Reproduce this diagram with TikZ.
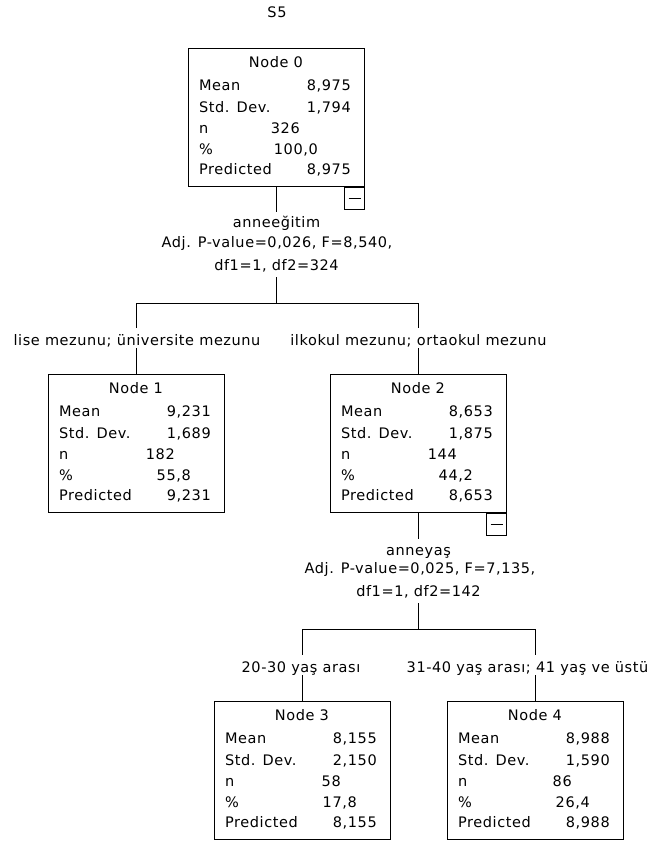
\documentclass[tikz,border=0pt]{standalone}
\usepackage{fontspec}
\setmainfont{DejaVu Sans}[LetterSpace=4]
\newfontfamily\tf{DejaVu Sans}[LetterSpace=4]
\usetikzlibrary{calc}
\def\nOff{127}
\def\pOff{143}
\newcommand\nodetext[7]{%
 \node[anchor=base] (#1-t) at ([xshift=88pt,yshift=-20pt]#1.north west) {#2};
 \node[anchor=base west] (#1-ml) at ([xshift=11pt,yshift=-43pt]#1.north west) {Mean};
 \node[anchor=base east] (#1-mv) at ([xshift=163pt,yshift=-43pt]#1.north west) {#3};
 \node[anchor=base west] (#1-sl) at ([xshift=11pt,yshift=-65pt]#1.north west) {Std. Dev.};
 \node[anchor=base east] (#1-sv) at ([xshift=163pt,yshift=-65pt]#1.north west) {#4};
 \node[anchor=base west] (#1-nl) at ([xshift=11pt,yshift=-86pt]#1.north west) {n};
 \node[anchor=base east] (#1-nv) at ([xshift=\nOff pt,yshift=-86pt]#1.north west) {#5};
 \node[anchor=base west] (#1-pl) at ([xshift=11pt,yshift=-107pt]#1.north west) {\%};
 \node[anchor=base east] (#1-pv) at ([xshift=\pOff pt,yshift=-107pt]#1.north west) {#6};
 \node[anchor=base west] (#1-rl) at ([xshift=11pt,yshift=-127pt]#1.north west) {Predicted};
 \node[anchor=base east] (#1-rv) at ([xshift=163pt,yshift=-127pt]#1.north west) {#7};
}
\tikzset{
 ln/.style={line width=1.1pt},
 box/.style={draw, line width=1.1pt, minimum width=176pt, minimum height=138pt, inner sep=0pt},
 cbox/.style={draw, line width=1.1pt, minimum width=20pt, minimum height=22pt, inner sep=0pt, anchor=north east},
 spl/.style={anchor=base, text height=16pt, text depth=7pt},
 lbl/.style={anchor=base, text height=17pt, text depth=3pt},
}
\begin{document}
\begin{tikzpicture}[x=1pt,y=-1pt, every node/.style={font=\tf\fontsize{14.5}{17}\selectfont, inner sep=0pt}]
\useasboundingbox (0,0) rectangle (653,842);

\node[anchor=base] (title) at (277,18) {S5};

% boxes
\node[box] (n0) at (276.5,117.5) {};
\node[box] (n1) at (136.5,443.5) {};
\node[box] (n2) at (418.5,443.5) {};
\node[box] (n3) at (302.5,770.5) {};
\node[box] (n4) at (535.5,770.5) {};

\def\nOff{112}\def\pOff{130}
\nodetext{n0}{Node 0}{8,975}{1,794}{326}{100,0}{8,975}
\def\nOff{127}\def\pOff{143}
\nodetext{n1}{Node 1}{9,231}{1,689}{182}{55,8}{9,231}
\nodetext{n2}{Node 2}{8,653}{1,875}{144}{44,2}{8,653}
\nodetext{n3}{Node 3}{8,155}{2,150}{58}{17,8}{8,155}
\def\nOff{125}
\nodetext{n4}{Node 4}{8,988}{1,590}{86}{26,4}{8,988}

% collapse boxes
\node[cbox] (c0) at (n0.south east) {};
\draw[ln] ([xshift=-6pt]c0.center) -- ([xshift=6pt]c0.center);
\node[cbox] (c2) at (n2.south east) {};
\draw[ln] ([xshift=-6pt]c2.center) -- ([xshift=6pt]c2.center);

% first split
\node[spl] (s0a) at (276.5,228) {anneeğitim};
\node[spl] (s0b) at (277,247) {Adj. P-value=0,026, F=8,540,};
\node[spl] (s0c) at (276.5,270) {df1=1, df2=324};
\coordinate (j0) at (276.5,303.5);
\draw[ln] (n0.south) -- (s0a.north);
\draw[ln] (s0c.south) -- (j0);

\node[lbl] (l1) at (137,345) {lise mezunu; üniversite mezunu};
\node[lbl] (l2) at (418.5,345) {ilkokul mezunu; ortaokul mezunu};
\draw[ln] (n1.north |- l1.north) |- (j0) -| (n2.north |- l2.north);
\draw[ln] (n1.north |- l1.south) -- (n1.north);
\draw[ln] (n2.north |- l2.south) -- (n2.north);

% second split
\node[spl] (s2a) at (418.5,555) {anneyaş};
\node[spl] (s2b) at (420,573.5) {Adj. P-value=0,025, F=7,135,};
\node[spl] (s2c) at (418.5,596) {df1=1, df2=142};
\coordinate (j2) at (418.5,629.5);
\draw[ln] (n2.south) -- (s2a.north);
\draw[ln] (s2c.south) -- (j2);

\node[lbl] (l3) at (301,672) {20-30 yaş arası};
\node[lbl] (l4) at (527.5,672) {31-40 yaş arası; 41 yaş ve üstü};
\draw[ln] (n3.north |- l3.north) |- (j2) -| (n4.north |- l4.north);
\draw[ln] (n3.north |- l3.south) -- (n3.north);
\draw[ln] (n4.north |- l4.south) -- (n4.north);
\end{tikzpicture}
\end{document}
